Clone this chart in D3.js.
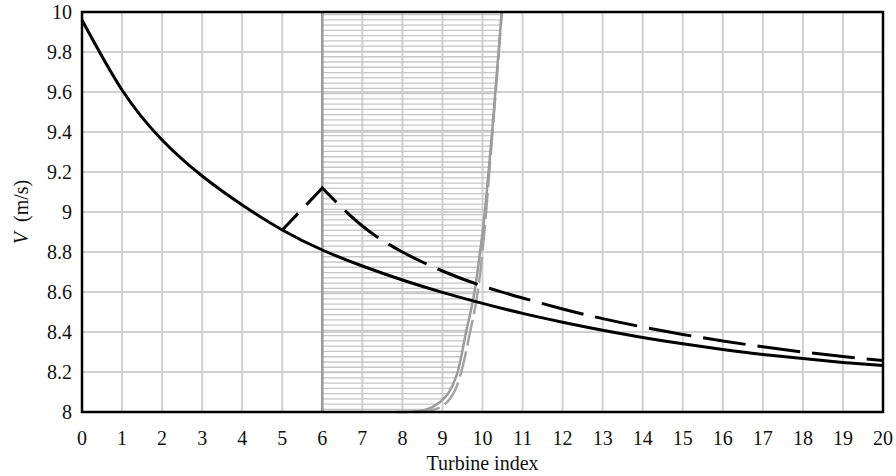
<!DOCTYPE html>
<html>
<head>
<meta charset="utf-8">
<script src="https://cdn.jsdelivr.net/npm/d3@7"></script>
<style>
  html, body { margin: 0; padding: 0; background: #fff; }
  svg { display: block; }
  text { font-family: "Liberation Serif", "Times New Roman", serif; fill: #111; }
</style>
</head>
<body>
<svg id="chart" width="896" height="476"></svg>
<script>
// Turbine positions along the row
const turbineIndex = [0,1,2,3,4,5,6,7,8,9,10,11,12,13,14,15,16,17,18,19,20];
// Wind speed at each turbine, baseline case (solid black)
const speedBase = [9.96,9.61,9.36,9.18,9.035,8.91,8.81,8.73,8.66,8.598,8.543,8.493,8.449,8.409,8.373,8.341,8.313,8.288,8.267,8.248,8.232];
// Wind speed with the disturbance starting at turbine 5 (dashed black)
const disturbedIndex = [5,6,7,8,9,10,11,12,13,14,15,16,17,18,19,20];
const speedDisturbed = [8.91,9.12,8.93,8.80,8.705,8.63,8.57,8.515,8.467,8.425,8.388,8.355,8.326,8.30,8.277,8.257];
// Grey front curves (solid and dashed): index position against speed level
const frontSolidX = [7.85,8.3,8.61,8.77,8.94,9.15,9.27,9.38,9.59,9.80,9.94,10.06,10.15,10.24,10.32,10.40,10.48];
const frontSolidV = [8.0,8.003,8.013,8.027,8.05,8.095,8.14,8.2,8.4,8.6,8.8,9.0,9.2,9.4,9.6,9.8,10.0];
const frontDashX = [8.3,8.75,9.0,9.2,9.34,9.47,9.69,9.88,10.0,10.09,10.17,10.25,10.33,10.41,10.48];
const frontDashV = [8.0,8.01,8.03,8.07,8.12,8.2,8.4,8.6,8.8,9.0,9.2,9.4,9.6,9.8,10.0];
// Start of the shaded zone
const zoneStart = 6;
// Axis ticks
const xTicks = turbineIndex;
const yTicks = [8,8.2,8.4,8.6,8.8,9,9.2,9.4,9.6,9.8,10];

const W = 896, H = 476;
const margin = {left: 82, right: 13, top: 12, bottom: 64};
const svg = d3.select("#chart");

const x = d3.scaleLinear().domain([0, 20]).range([margin.left, W - margin.right]);
const y = d3.scaleLinear().domain([8, 10]).range([H - margin.bottom, margin.top]);

// grid
const grid = svg.append("g").attr("stroke", "#d0d0d0").attr("stroke-width", 2);
grid.selectAll("line.v").data(xTicks.slice(1, -1)).join("line")
  .attr("x1", d => x(d)).attr("x2", d => x(d))
  .attr("y1", y(8)).attr("y2", y(10));
grid.selectAll("line.h").data(yTicks.slice(1, -1)).join("line")
  .attr("x1", x(0)).attr("x2", x(20))
  .attr("y1", d => y(d)).attr("y2", d => y(d));

// shaded zone between the start line and the solid grey front
const frontSolid = frontSolidX.map((v, i) => [v, frontSolidV[i]]);
const frontDash = frontDashX.map((v, i) => [v, frontDashV[i]]);
const curveLine = d3.line().x(d => x(d[0])).y(d => y(d[1])).curve(d3.curveMonotoneX);

const zonePath = `M${x(zoneStart)},${y(10)}L${x(zoneStart)},${y(8)}L` + curveLine(frontSolid).slice(1) + "Z";
svg.append("clipPath").attr("id", "zoneClip").append("path").attr("d", zonePath);

const hatchLevels = d3.range(0, 76).map(i => 10 - (i + 0.5) * (2 / 76));
svg.append("g").attr("clip-path", "url(#zoneClip)")
  .selectAll("line").data(hatchLevels).join("line")
  .attr("x1", x(zoneStart)).attr("x2", x(11))
  .attr("y1", d => y(d)).attr("y2", d => y(d))
  .attr("stroke", "#c6c6c6").attr("stroke-width", 1.3);

// vertical line at the zone start
svg.append("line")
  .attr("x1", x(zoneStart)).attr("x2", x(zoneStart))
  .attr("y1", y(8)).attr("y2", y(10))
  .attr("stroke", "#9a9a9a").attr("stroke-width", 2.5);

// grey fronts
svg.append("path").attr("d", curveLine(frontDash))
  .attr("fill", "none").attr("stroke", "#a4a4a4").attr("stroke-width", 2.5)
  .attr("stroke-dasharray", "26,6");
svg.append("path").attr("d", curveLine(frontSolid))
  .attr("fill", "none").attr("stroke", "#9c9c9c").attr("stroke-width", 2.5);

// baseline speed
const baseLine = d3.line().x((d, i) => x(turbineIndex[i])).y(d => y(d)).curve(d3.curveNatural);
svg.append("path").attr("d", baseLine(speedBase))
  .attr("fill", "none").attr("stroke", "#000").attr("stroke-width", 3);

// disturbed speed: straight rise to the peak, smooth decay afterwards
const pts = disturbedIndex.map((v, i) => [x(v), y(speedDisturbed[i])]);
const rise = d3.line().curve(d3.curveLinear)(pts.slice(0, 2));
const decay = d3.line().curve(d3.curveNatural)(pts.slice(1));
svg.append("path").attr("d", rise + "L" + decay.slice(1))
  .attr("fill", "none").attr("stroke", "#000").attr("stroke-width", 3)
  .attr("stroke-dasharray", "43,12").attr("stroke-dashoffset", 20);

// frame
svg.append("rect")
  .attr("x", x(0)).attr("y", y(10))
  .attr("width", x(20) - x(0)).attr("height", y(8) - y(10))
  .attr("fill", "none").attr("stroke", "#000").attr("stroke-width", 2.5);

// tick labels
svg.append("g").selectAll("text").data(xTicks).join("text")
  .attr("x", d => x(d)).attr("y", y(8) + 33)
  .attr("text-anchor", "middle").attr("font-size", 20)
  .text(d => d);
svg.append("g").selectAll("text").data(yTicks).join("text")
  .attr("x", x(0) - 10).attr("y", d => y(d) + 6.5)
  .attr("text-anchor", "end").attr("font-size", 20)
  .text(d => String(+d.toFixed(1)));

// axis titles
svg.append("text")
  .attr("x", (x(0) + x(20)) / 2).attr("y", 470)
  .attr("text-anchor", "middle").attr("font-size", 20)
  .text("Turbine index");
const yt = svg.append("text")
  .attr("transform", `translate(28,${y(9)}) rotate(-90)`)
  .attr("text-anchor", "middle").attr("font-size", 20);
yt.append("tspan").attr("font-style", "italic").text("V");
yt.append("tspan").attr("dx", 10).text("(m/s)");
</script>
</body>
</html>
